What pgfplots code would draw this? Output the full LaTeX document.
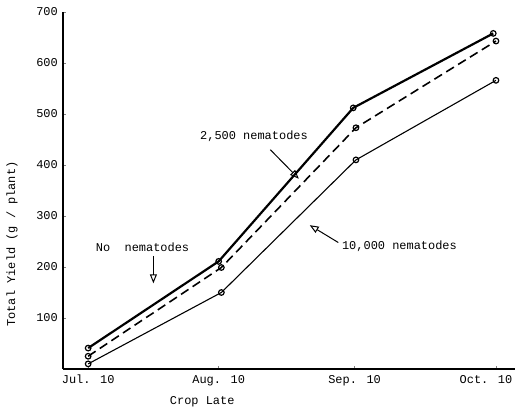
\documentclass[border=0pt]{standalone}
\usepackage{fontspec}
\setmainfont{Liberation Mono}
\usepackage{pgfplots}
\pgfplotsset{compat=1.18}
\usetikzlibrary{arrows.meta}

\begin{document}
\fontsize{12}{14}\selectfont
\begin{tikzpicture}
\begin{axis}[
    scale only axis,
    width=452bp, height=357bp,
    xmin=-0.185, xmax=3.14,
    ymin=0, ymax=700,
    axis x line*=bottom,
    axis y line*=left,
    axis line style={line width=1.4pt},
    xtick={0,0.96,1.96,3},
    xticklabels={Jul. 10,Aug. 10,Sep. 10,\hspace*{-20bp}Oct. 10},
    ytick={100,200,...,700},
    tick align=inside,
    major tick length=3pt,
    tick style={line width=0.8pt},
    /pgf/number format/assume math mode=true,
    yticklabel style={xshift=-1pt},
    xticklabel style={yshift=-2pt},
    xlabel={Crop Late},
    ylabel={Total Yield (g / plant)},
    xlabel style={at={(axis description cs:0.308,-0.092)},anchor=center},
    ylabel style={at={(axis description cs:-0.113,0.35)},anchor=center,rotate=0},
    clip=false,
    mark size=2.8pt,
]
% No nematodes
\addplot[black, line width=2.2pt, mark=o, mark options={solid,line width=1.2pt}]
  coordinates {(0,41) (0.96,211) (1.95,512) (2.98,658)};
% 2,500 nematodes
\addplot[black, line width=1.6pt, dash pattern=on 9pt off 5pt, mark=o, mark options={solid,line width=1.2pt}]
  coordinates {(0,25) (0.98,199) (1.97,473) (3,643)};
% 10,000 nematodes
\addplot[black, line width=1.1pt, mark=o, mark options={solid,line width=1.2pt}]
  coordinates {(0,10) (0.98,150) (1.97,410) (3,566)};

\node at (axis cs:0.40,238) {No\ \ nematodes};
\draw[-{Triangle[open,length=9pt,width=7pt]}, line width=1pt] (axis cs:0.48,222) -- (axis cs:0.48,168);
\node at (axis cs:1.22,457) {2,500 nematodes};
\draw[-{Triangle[open,length=9pt,width=7pt]}, line width=1pt] (axis cs:1.34,430) -- (axis cs:1.55,373);
\node at (axis cs:2.29,240) {10,000 nematodes};
\draw[-{Triangle[open,length=9pt,width=7pt]}, line width=1pt] (axis cs:1.84,248) -- (axis cs:1.63,282);

\coordinate (sw) at (rel axis cs:0,0);
\coordinate (ne) at (rel axis cs:1,1);
\end{axis}
\pgfresetboundingbox
\useasboundingbox ([shift={(-63bp,-45bp)}]sw) rectangle ([shift={(6bp,12bp)}]ne);
\end{tikzpicture}
\end{document}
